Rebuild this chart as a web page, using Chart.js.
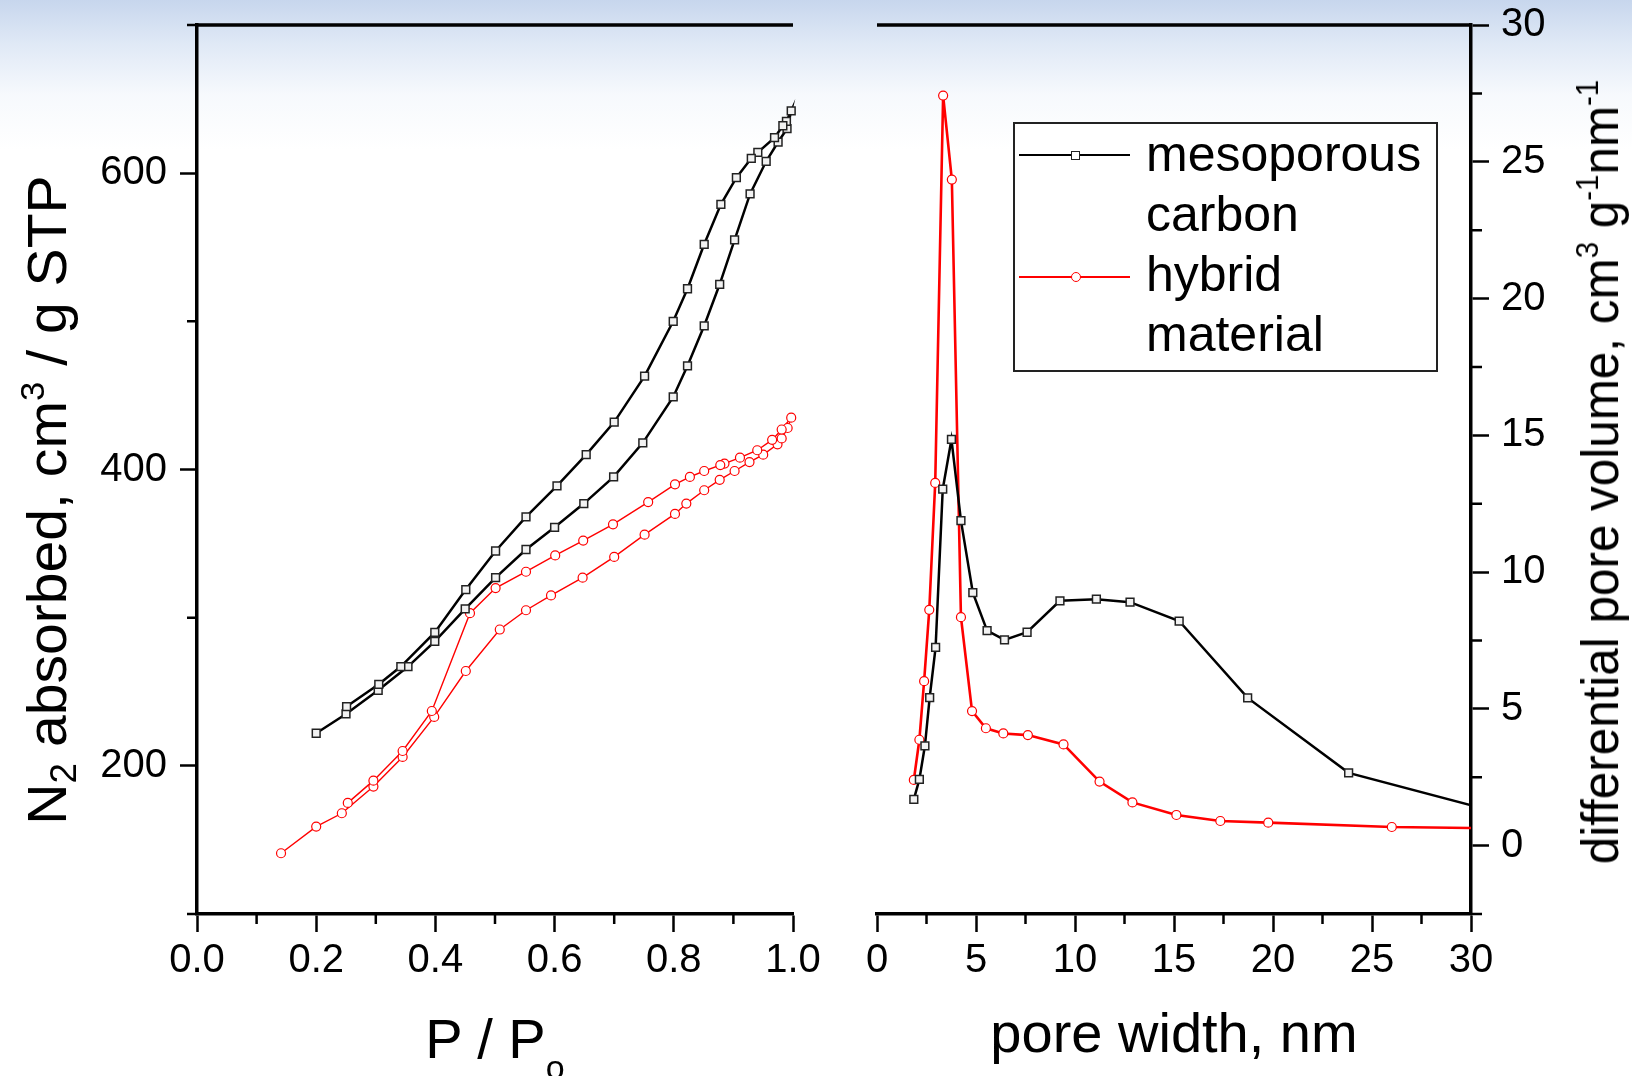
<!DOCTYPE html>
<html>
<head>
<meta charset="utf-8">
<script src="https://cdn.jsdelivr.net/npm/chart.js@4.4.1/dist/chart.umd.min.js"></script>
<style>
  html, body { margin: 0; padding: 0; }
  body {
    width: 1632px; height: 1076px; overflow: hidden; position: relative;
    background: #fff; font-family: 'Liberation Sans', Arial, sans-serif; color: #000;
  }
  #bg {
    position: absolute; left: 0; top: 0; width: 1632px; height: 150px;
    background: linear-gradient(to bottom, rgba(196,212,236,0.95) 0px, rgba(214,226,243,0.75) 45px, rgba(236,242,250,0.45) 95px, rgba(255,255,255,0) 150px);
  }
  canvas { position: absolute; top: -20px; }
  #isoChart { left: 0; }
  #poreChart { left: 800px; }
  .title { position: absolute; white-space: nowrap; text-align: center; }
  .sub { position: relative; font-size: 34px; top: 21px; }
  .sup { position: relative; font-size: 32px; top: -20px; }
  #legend {
    position: absolute; left: 1013px; top: 122px; width: 425px; height: 250px;
    box-sizing: border-box; border: 2px solid #222; background: #fff;
  }
  #legend .text { position: absolute; left: 131px; top: 0px; font-size: 50px; line-height: 60px; white-space: nowrap; }
  #legend .line { position: absolute; left: 4px; width: 111px; }
  #legend .mark { position: absolute; box-sizing: border-box; background: #fff; }
</style>
</head>
<body>
<div id="bg"></div>
<canvas id="isoChart" width="840" height="1096"></canvas>
<canvas id="poreChart" width="832" height="1096"></canvas>

<div class="title" style="left:197px; width:596px; top:1011px; font-size:56px; line-height:56px;">P / P<span class="sub">o</span></div>
<div class="title" style="left:877px; width:594px; top:1005px; font-size:56px; line-height:56px;">pore width, nm</div>
<div class="title" style="left:-353px; top:472px; width:800px; height:56px; font-size:56px; line-height:56px; transform:rotate(-90deg) scaleX(1.02);">N<span class="sub" style="font-size:36px; top:10px;">2</span> absorbed, cm<span class="sup" style="font-size:34px; top:-22px;">3</span> / g STP</div>
<div class="title" style="left:1150px; top:446px; width:900px; height:52px; font-size:52px; line-height:52px; transform:rotate(-90deg) scaleX(0.95);">differential pore volume, cm<span class="sup" style="font-size:31px;">3</span> g<span class="sup" style="font-size:31px;">-1</span>nm<span class="sup" style="font-size:31px;">-1</span></div>

<div id="legend">
  <div class="line" style="top:30px; border-top:2.5px solid #000;"></div>
  <div class="mark" style="left:56px; top:27px; width:9px; height:9px; border:1.5px solid #222;"></div>
  <div class="line" style="top:152px; border-top:2px solid #ff0000;"></div>
  <div class="mark" style="left:56px; top:148px; width:10px; height:10px; border:1.3px solid #ff0000; border-radius:50%;"></div>
  <div class="text">mesoporous<br>carbon<br>hybrid<br>material</div>
</div>

<script>
// --- isotherms (left panel): adsorption branch first, then desorption back down
var carbonP = [0.200, 0.250, 0.304, 0.354, 0.399, 0.450, 0.501, 0.552, 0.600, 0.649, 0.699, 0.748, 0.799, 0.823, 0.851, 0.877, 0.902, 0.928, 0.955, 0.975, 0.990, 0.997,
               0.989, 0.983, 0.969, 0.941, 0.930, 0.905, 0.879, 0.851, 0.823, 0.799, 0.751, 0.700, 0.653, 0.604, 0.552, 0.501, 0.451, 0.399, 0.342, 0.305, 0.251];
var carbonV = [222, 235, 251, 267, 284, 306, 327, 346, 361, 377, 395, 418, 449, 470, 497, 525, 555, 586, 608, 621, 630, 642,
               635, 632, 624, 614, 610, 597, 579, 552, 522, 500, 463, 432, 410, 389, 368, 345, 319, 290, 267, 255, 240];

var hybridP = [0.141, 0.200, 0.243, 0.296, 0.345, 0.398, 0.451, 0.508, 0.552, 0.594, 0.647, 0.700, 0.751, 0.802, 0.821, 0.851, 0.877, 0.902, 0.927, 0.950, 0.974, 0.981, 0.991, 0.997,
               0.981, 0.965, 0.940, 0.911, 0.885, 0.878, 0.851, 0.827, 0.802, 0.757, 0.698, 0.648, 0.601, 0.552, 0.501, 0.458, 0.394, 0.345, 0.296, 0.253];
var hybridV = [141, 159, 168, 186, 206, 233, 264, 292, 305, 315, 327, 341, 356, 370, 377, 386, 393, 399, 405, 410, 417, 421, 428, 435,
               427, 420, 413, 408, 404, 403, 399, 395, 390, 378, 363, 352, 342, 331, 320, 303, 237, 210, 190, 175];

// --- pore size distribution (right panel); last point lies past the 30 nm edge
var carbonW  = [1.86, 2.14, 2.42, 2.66, 2.96, 3.32, 3.76, 4.24, 4.84, 5.56, 6.44, 7.58, 9.24, 11.08, 12.78, 15.26, 18.72, 23.82, 32.5];
var carbonDV = [1.69, 2.42, 3.65, 5.41, 7.25, 13.03, 14.85, 11.88, 9.25, 7.86, 7.52, 7.80, 8.95, 9.01, 8.90, 8.21, 5.40, 2.66, 1.00];

var hybridW  = [1.86, 2.14, 2.38, 2.64, 2.94, 3.34, 3.78, 4.24, 4.80, 5.50, 6.38, 7.62, 9.42, 11.24, 12.90, 15.12, 17.34, 19.76, 26.0, 32.3];
var hybridDV = [2.40, 3.87, 6.01, 8.62, 13.26, 27.42, 24.35, 8.35, 4.92, 4.29, 4.10, 4.04, 3.70, 2.34, 1.58, 1.12, 0.90, 0.84, 0.68, 0.62];

// --- tick values
var isoTicksX = [0, 0.2, 0.4, 0.6, 0.8, 1.0];
var isoMinorX = [0.1, 0.3, 0.5, 0.7, 0.9];
var isoTicksY = [200, 400, 600];
var isoMinorY = [100, 300, 500, 700];
var poreTicksX = [0, 5, 10, 15, 20, 25, 30];
var poreMinorX = [2.5, 7.5, 12.5, 17.5, 22.5, 27.5];
var poreTicksY = [0, 5, 10, 15, 20, 25, 30];
var poreMinorY = [-2.5, 2.5, 7.5, 12.5, 17.5, 22.5, 27.5];

var FONT = "'Liberation Sans', Arial, sans-serif";

function toPoints(xs, ys) {
    return xs.map(function(x, i){ return {x: x, y: ys[i]}; });
}

// minor ticks + the plain top frame line
var framePlugin = {
    id: 'frame',
    afterDraw: function(chart, args, opts) {
        var ctx = chart.ctx;
        var area = chart.chartArea;
        var xs = chart.scales.x, ys = chart.scales.y;
        ctx.save();
        ctx.strokeStyle = '#000';
        ctx.lineWidth = 2.5;
        ctx.beginPath();
        opts.minorX.forEach(function(v){
            var px = xs.getPixelForValue(v);
            ctx.moveTo(px, area.bottom);
            ctx.lineTo(px, area.bottom + 10);
        });
        opts.minorY.forEach(function(v){
            var py = ys.getPixelForValue(v);
            if (opts.side === 'left') {
                ctx.moveTo(area.left - 10, py);
                ctx.lineTo(area.left, py);
            } else {
                ctx.moveTo(area.right, py);
                ctx.lineTo(area.right + 11, py);
            }
        });
        ctx.stroke();
        ctx.lineWidth = 3.5;
        ctx.beginPath();
        ctx.moveTo(area.left, area.top);
        ctx.lineTo(area.right, area.top);
        ctx.stroke();
        ctx.restore();
    }
};

function makeAxis(o) {
    return {
        type: 'linear',
        position: o.position,
        min: o.min,
        max: o.max,
        afterBuildTicks: function(scale) {
            scale.ticks = o.ticks.map(function(v){ return {value: v}; });
        },
        afterFit: function(scale) {
            if (scale.isHorizontal()) scale.height = o.size;
            else scale.width = o.size;
        },
        border: { display: true, color: '#000', width: 3.5 },
        grid: { drawOnChartArea: false, drawTicks: true, tickLength: o.tickLength, tickWidth: 2.5, tickColor: '#000' },
        ticks: {
            color: '#000',
            font: { family: FONT, size: 40 },
            padding: o.padding,
            autoSkip: false,
            maxRotation: 0,
            callback: o.format
        }
    };
}

function blackSet(label, data, clip) {
    return {
        label: label, data: data, showLine: true, clip: clip,
        borderColor: '#000', borderWidth: 2.5,
        pointStyle: 'rect', pointRadius: 5.5, pointBorderWidth: 1.5,
        pointBorderColor: '#222', pointBackgroundColor: '#f2f2f2'
    };
}

function redSet(label, data, width, clip) {
    return {
        label: label, data: data, showLine: true, clip: clip,
        borderColor: '#ff0000', borderWidth: width,
        pointStyle: 'circle', pointRadius: 4.5, pointBorderWidth: 1.2,
        pointBorderColor: '#ff0000', pointBackgroundColor: '#fff'
    };
}

var baseOptions = function(padding, scales, frame) {
    return {
        responsive: false,
        animation: false,
        devicePixelRatio: 1,
        layout: { padding: padding },
        elements: { line: { tension: 0 } },
        plugins: { legend: { display: false }, tooltip: { enabled: false }, frame: frame },
        scales: scales
    };
};

new Chart(document.getElementById('isoChart'), {
    type: 'scatter',
    data: {
        datasets: [
            blackSet('mesoporous carbon', toPoints(carbonP, carbonV), 10),
            redSet('hybrid material', toPoints(hybridP, hybridV), 1.4, 10)
        ]
    },
    options: baseOptions(
        { top: 45, right: 47, bottom: 0, left: 0 },
        {
            x: makeAxis({ position: 'bottom', min: 0, max: 1, ticks: isoTicksX, size: 162, tickLength: 18, padding: 5,
                          format: function(v){ return Number(v).toFixed(1); } }),
            y: makeAxis({ position: 'left', min: 100, max: 700, ticks: isoTicksY, size: 197, tickLength: 17, padding: 13,
                          format: function(v){ return String(v); } })
        },
        { minorX: isoMinorX, minorY: isoMinorY, side: 'left' }
    ),
    plugins: [framePlugin]
});

var poreClip = { left: 10, top: 10, right: 0, bottom: 10 };

new Chart(document.getElementById('poreChart'), {
    type: 'scatter',
    data: {
        datasets: [
            blackSet('mesoporous carbon', toPoints(carbonW, carbonDV), poreClip),
            redSet('hybrid material', toPoints(hybridW, hybridDV), 2.6, poreClip)
        ]
    },
    options: baseOptions(
        { top: 45, right: 0, bottom: 0, left: 77 },
        {
            x: makeAxis({ position: 'bottom', min: 0, max: 30, ticks: poreTicksX, size: 162, tickLength: 18, padding: 5,
                          format: function(v){ return String(v); } }),
            y: makeAxis({ position: 'right', min: -2.5, max: 30, ticks: poreTicksY, size: 161, tickLength: 18, padding: 12,
                          format: function(v){ return String(v); } })
        },
        { minorX: poreMinorX, minorY: poreMinorY, side: 'right' }
    ),
    plugins: [framePlugin]
});
</script>
</body>
</html>
